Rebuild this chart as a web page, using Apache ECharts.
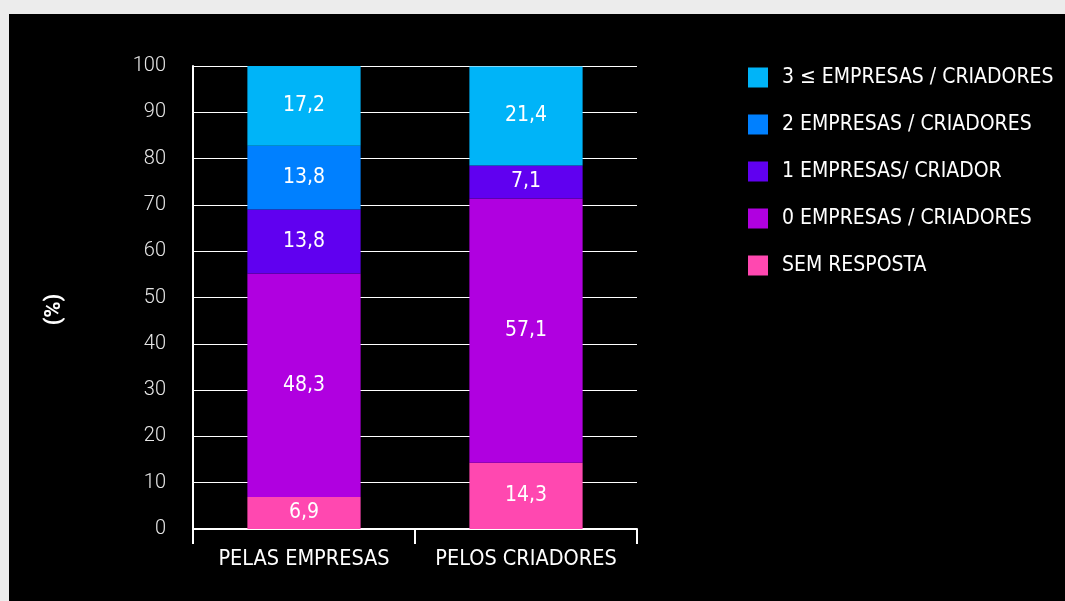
<!DOCTYPE html>
<html>
<head>
<meta charset="utf-8">
<script src="https://cdn.jsdelivr.net/npm/echarts@6/dist/echarts.min.js"></script>
<style>
  html, body { margin: 0; padding: 0; background: #ececec; }
  #panel { position: absolute; left: 9px; top: 14px; width: 1056px; height: 587px; background: #000; }
  #chart { position: absolute; left: 0; top: 0; width: 1065px; height: 601px; }
</style>
</head>
<body>
<div id="panel"></div>
<div id="chart"></div>
<script>
var categories = ['PELAS EMPRESAS', 'PELOS CRIADORES'];
var semResposta = [6.9, 14.3];
var zeroEmpresas = [48.3, 57.1];
var umaEmpresa = [13.8, 7.1];
var duasEmpresas = [13.8, 0];
var tresOuMais = [17.2, 21.4];
var yTicks = [0, 10, 20, 30, 40, 50, 60, 70, 80, 90, 100];

var condensed = '"Liberation Sans Narrow", "DejaVu Sans Condensed", sans-serif';

function pct(p) {
  return p.value ? String(p.value).replace('.', ',') : '';
}

function layer(name, data, color) {
  return {
    name: name,
    type: 'bar',
    stack: 'total',
    data: data,
    barWidth: '51%',
    itemStyle: { color: color },
    label: {
      show: true,
      position: 'inside',
      formatter: pct,
      color: '#fff',
      fontFamily: condensed,
      fontSize: 21
    }
  };
}

var option = {
  animation: false,
  textStyle: { fontFamily: condensed },
  grid: { left: 193, right: 428, top: 66, bottom: 72 },
  legend: {
    orient: 'vertical',
    left: 748,
    top: 67,
    padding: 0,
    itemWidth: 20,
    itemHeight: 20,
    itemGap: 26,
    icon: 'rect',
    data: ['3 ≤ EMPRESAS / CRIADORES', '2 EMPRESAS / CRIADORES', '1 EMPRESAS/ CRIADOR', '0 EMPRESAS / CRIADORES', 'SEM RESPOSTA'],
    textStyle: { color: '#fff', fontFamily: condensed, fontSize: 21, lineHeight: 16, padding: [0, 0, 0, 9] }
  },
  xAxis: {
    type: 'category',
    data: categories,
    axisLine: { lineStyle: { color: '#fff', width: 2 } },
    axisTick: { show: true, length: 15, lineStyle: { color: '#fff', width: 2 } },
    axisLabel: { interval: 0, color: '#fff', fontFamily: condensed, fontSize: 21.5, margin: 19 }
  },
  yAxis: {
    type: 'value',
    min: yTicks[0],
    max: yTicks[yTicks.length - 1],
    interval: 10,
    name: '(%)',
    nameLocation: 'middle',
    nameRotate: 90,
    nameGap: 128,
    nameTextStyle: { color: '#fff', fontFamily: 'Roboto', fontWeight: 'bold', fontSize: 22, padding: [0, 24, 0, 0] },
    axisLine: { show: true, lineStyle: { color: '#fff', width: 2 } },
    axisTick: { show: false },
    axisLabel: { color: '#e6e6e6', fontFamily: 'Roboto', fontWeight: 300, fontSize: 20, margin: 27 },
    splitLine: { lineStyle: { color: '#fff', width: 1 } }
  },
  series: [
    layer('SEM RESPOSTA', semResposta, '#ff48b0'),
    layer('0 EMPRESAS / CRIADORES', zeroEmpresas, '#b000e0'),
    layer('1 EMPRESAS/ CRIADOR', umaEmpresa, '#6000f0'),
    layer('2 EMPRESAS / CRIADORES', duasEmpresas, '#0080ff'),
    layer('3 ≤ EMPRESAS / CRIADORES', tresOuMais, '#00b4f8')
  ]
};

var chart = echarts.init(document.getElementById('chart'));
chart.setOption(option);
</script>
</body>
</html>
